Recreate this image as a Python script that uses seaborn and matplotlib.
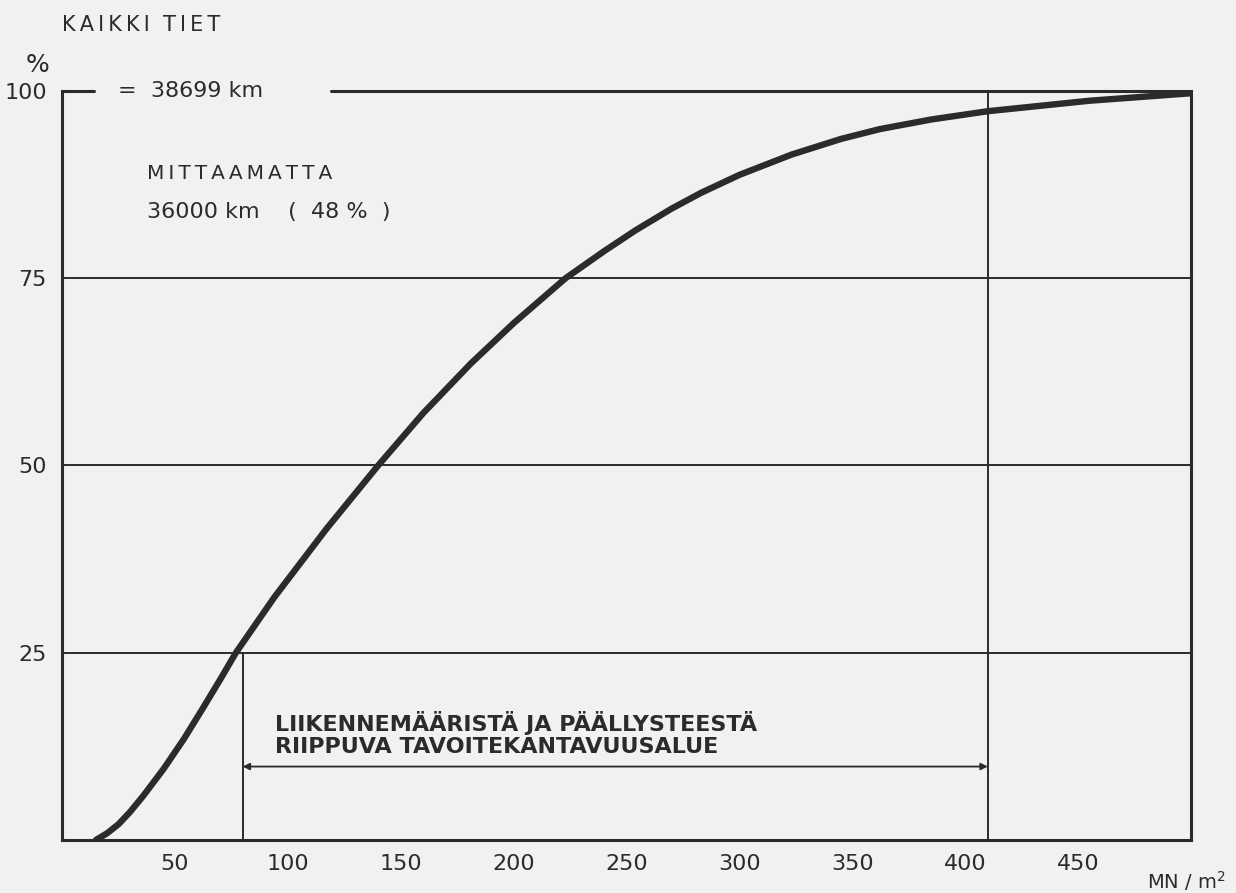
import numpy as np
import pandas as pd
import seaborn as sns
import matplotlib.pyplot as plt

# cumulative share of roads (%) vs. bearing capacity (MN/m2)
capacity = [15, 20, 25, 30, 36, 45, 54, 63, 70, 77, 94, 117, 140, 160, 181,
            200, 223, 240, 254, 270, 283, 300, 323, 345, 362, 385, 410, 455,
            500]
share = [0, 0.9, 2.1, 3.7, 5.9, 9.5, 13.5, 17.9, 21.4, 25, 32.4, 41.5, 50,
         57, 63.6, 69, 75, 78.6, 81.4, 84.3, 86.4, 88.8, 91.5, 93.6, 94.9,
         96.2, 97.3, 98.7, 99.7]

x_ticks = [50, 100, 150, 200, 250, 300, 350, 400, 450]
y_ticks = [25, 50, 75, 100]
range_low, range_high = 80, 410

ink = '#2b2b2b'
paper = '#f1f1ef'


def spaced(s):
    # widen letter spacing with thin spaces, like the stencil lettering
    return '\u2009'.join(s)


sns.set_style("white")
plt.rcParams['font.family'] = ['DejaVu Sans']

fig = plt.figure(figsize=(12.36, 8.93), dpi=100, facecolor=paper)
ax = fig.add_axes([0.0502, 0.0594, 0.9134, 0.8387])
ax.set_facecolor(paper)

df = pd.DataFrame({'kantavuus': capacity, 'osuus': share})
sns.lineplot(data=df, x='kantavuus', y='osuus', sort=False, color=ink,
             linewidth=4.6, ax=ax, solid_capstyle='round',
             solid_joinstyle='round')

# horizontal reference lines
for yv in y_ticks[:-1]:
    ax.axhline(yv, color=ink, linewidth=1.4, zorder=1)

# vertical limits of the target range
ax.plot([range_low, range_low], [0, 25], color=ink, linewidth=1.4, zorder=1)
ax.plot([range_high, range_high], [0, 100], color=ink, linewidth=1.4, zorder=1)

# broken top line
ax.plot([0, 14], [100, 100], color=ink, linewidth=2.2, clip_on=False)
ax.plot([119, 500], [100, 100], color=ink, linewidth=2.2, clip_on=False)

ax.annotate('', xy=(range_low, 9.8), xytext=(range_high, 9.8),
            arrowprops=dict(arrowstyle='<|-|>', color=ink, lw=1.3,
                            mutation_scale=10, shrinkA=0, shrinkB=0))

ax.set_xlim(0, 500)
ax.set_ylim(0, 100)
ax.set_xticks(x_ticks)
ax.set_xticklabels([str(v) for v in x_ticks])
ax.set_yticks(y_ticks)
ax.set_yticklabels([str(v) for v in y_ticks])
ax.tick_params(axis='x', direction='in', length=8, width=1.5, color=ink,
               labelsize=16, labelcolor=ink, pad=10)
ax.tick_params(axis='y', length=0, labelsize=16, labelcolor=ink, pad=11)
ax.set_xlabel('')
ax.set_ylabel('')

ax.spines['top'].set_visible(False)
for side in ['left', 'right', 'bottom']:
    ax.spines[side].set_color(ink)
    ax.spines[side].set_linewidth(2.2)

ax.text(24.8, 100, '=  38699 km', va='center', ha='left', fontsize=16,
        color=ink)
ax.text(37.6, 89, spaced('MITTAAMATTA'), va='center', ha='left',
        fontsize=14.5, color=ink)
ax.text(37.6, 83.8, '36000 km    (  48 %  )', va='center', ha='left',
        fontsize=16, color=ink)
ax.text(94.3, 15.6, 'LIIKENNEMÄÄRISTÄ JA PÄÄLLYSTEESTÄ', va='center',
        ha='left', fontsize=16, fontweight='bold', color=ink)
ax.text(94.3, 12.4, 'RIIPPUVA TAVOITEKANTAVUUSALUE', va='center',
        ha='left', fontsize=16, fontweight='bold', color=ink)

fig.text(0.050, 0.972, spaced('KAIKKI') + '  ' + spaced('TIET'),
         va='center', ha='left', fontsize=15, color=ink)
fig.text(0.0303, 0.927, '%', va='center', ha='center', fontsize=18, color=ink)
fig.text(0.928, 0.013, 'MN / m$^2$', va='center', ha='left',
         fontsize=14, color=ink)

fig.savefig('out.png', dpi=100, facecolor=paper)
